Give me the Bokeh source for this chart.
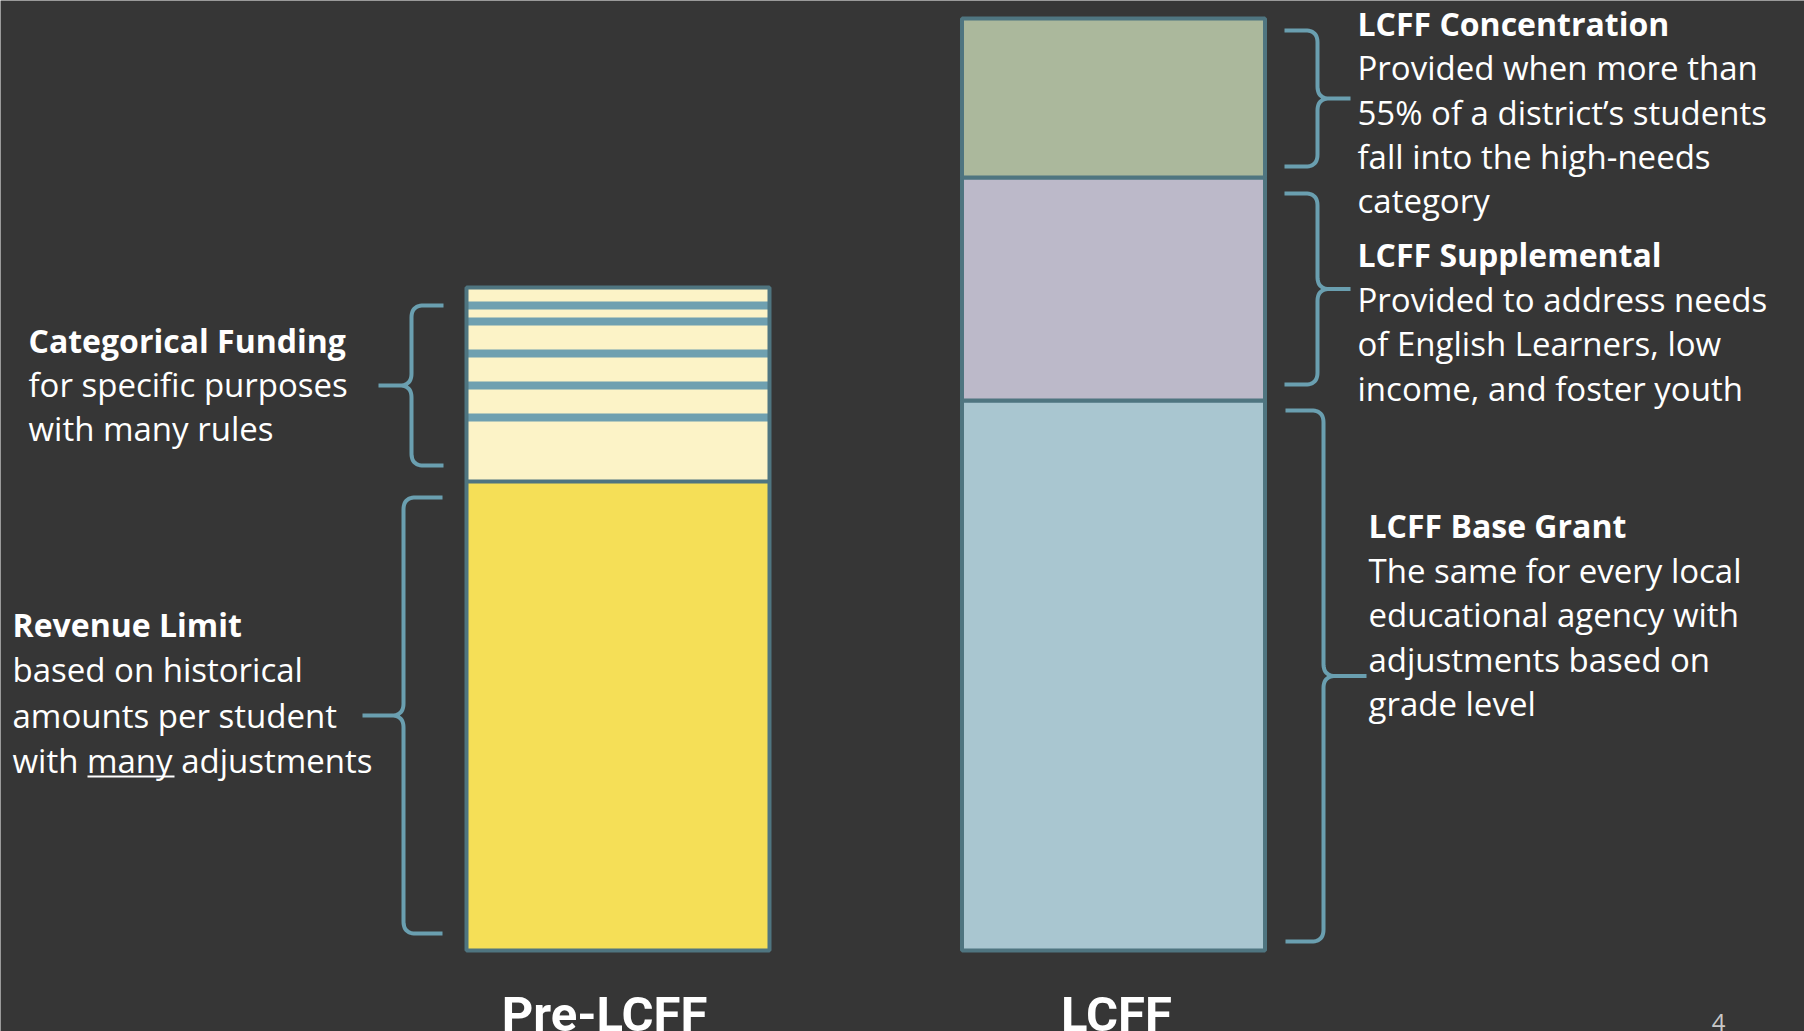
import numpy as np
from bokeh.plotting import figure
from bokeh.models import Range1d
from bokeh.core.properties import value
from bokeh.embed import file_html
from bokeh.resources import INLINE

# ---------------- data ----------------
bar_labels = ["Pre-LCFF", "LCFF"]
pre_revenue_limit = 469
pre_categorical = [64, 32, 32, 32, 16, 18]          # stacked pieces, bottom to top
lcff_names = ["LCFF Base Grant", "LCFF Supplemental", "LCFF Concentration"]
lcff_values = [550, 223, 159]                       # bottom to top

cat_title = "Categorical Funding"
cat_lines = ["for specific purposes", "with many rules"]
rev_title = "Revenue Limit"
rev_lines = ["based on historical", "amounts per student", "with many adjustments"]
conc_lines = ["Provided when more than", "55% of a district\u2019s students",
              "fall into the high-needs", "category"]
supp_lines = ["Provided to address needs", "of English Learners, low",
              "income, and foster youth"]
base_lines = ["The same for every local", "educational agency with",
              "adjustments based on", "grade level"]
page_number = "4"

# ---------------- style ----------------
BG = "#363636"
YELLOW = "#f5df57"
LIGHT_YELLOW = "#fcf3c7"
LCFF_COLORS = ["#a9c6d0", "#bcb9c9", "#abb89c"]
OUTLINE = "#4f7580"
STRIPE = "#6fa0b0"
BRACE = "#6a9fb0"
FONT = value("Open Sans")
W, H = 1804, 1031
BASE_PX = 950            # screen row of the bars' bottom
TEXT_SHIFT = 12          # renderer puts the baseline a little low

p = figure(width=W, height=H, output_backend="svg", toolbar_location=None,
           x_range=Range1d(0, W), y_range=Range1d(BASE_PX - H, BASE_PX),
           min_border=0, background_fill_color=BG, border_fill_color=BG,
           outline_line_color=None)
p.axis.visible = False
p.grid.visible = False


def v(px):
    """screen row (from top) -> data value"""
    return BASE_PX - px


pre_x, lcff_x, bar_w = 617.5, 1113, 303

# ---- Pre-LCFF bar ----
p.vbar(x=pre_x, width=bar_w, bottom=0, top=pre_revenue_limit,
       fill_color=YELLOW, line_color=None)
cat_bounds = pre_revenue_limit + np.concatenate([[0], np.cumsum(pre_categorical)])
p.vbar(x=[pre_x] * len(pre_categorical), width=bar_w,
       bottom=cat_bounds[:-1], top=cat_bounds[1:],
       fill_color=LIGHT_YELLOW, line_color=None)
inner = cat_bounds[1:-1]
p.segment(x0=[pre_x - bar_w / 2] * len(inner), x1=[pre_x + bar_w / 2] * len(inner),
          y0=inner, y1=inner, line_color=STRIPE, line_width=8)
p.segment(x0=[pre_x - bar_w / 2], x1=[pre_x + bar_w / 2],
          y0=[pre_revenue_limit], y1=[pre_revenue_limit],
          line_color=OUTLINE, line_width=4)
p.vbar(x=pre_x, width=bar_w, bottom=0, top=cat_bounds[-1],
       fill_alpha=0, line_color=OUTLINE, line_width=4)

# ---- LCFF bar ----
lb = np.concatenate([[0], np.cumsum(lcff_values)])
p.vbar(x=[lcff_x] * 3, width=bar_w, bottom=lb[:-1], top=lb[1:],
       fill_color=LCFF_COLORS, line_color=OUTLINE, line_width=4)


# ---- braces ----
def quad(p0, c, p1, n=14):
    t = np.linspace(0, 1, n)[:, None]
    pts = (1 - t) ** 2 * np.array(p0) + 2 * (1 - t) * t * np.array(c) + t ** 2 * np.array(p1)
    return pts


def brace(x_end, x_mid, x_tip, y_lo, y_hi, r=12):
    s = 1 if x_end > x_mid else -1
    y_m = (y_lo + y_hi) / 2
    pts = [np.array([[x_end, y_hi]])]
    pts.append(quad((x_mid + s * r, y_hi), (x_mid, y_hi), (x_mid, y_hi - r)))
    pts.append(quad((x_mid, y_m + r), (x_mid, y_m), (x_mid - s * r, y_m)))
    pts.append(np.array([[x_tip, y_m]]))
    pts.append(quad((x_mid - s * r, y_m), (x_mid, y_m), (x_mid, y_m - r)))
    pts.append(quad((x_mid, y_lo + r), (x_mid, y_lo), (x_mid + s * r, y_lo)))
    pts.append(np.array([[x_end, y_lo]]))
    a = np.vstack(pts)
    return a[:, 0], a[:, 1]


braces = [
    (443, 411, 378, cat_bounds[0] + 16, cat_bounds[-1] - 18),
    (442, 403, 362, 0 + 17, pre_revenue_limit - 16),
    (1284, 1317, 1350, lb[2] + 11, lb[3] - 12),
    (1284, 1317, 1350, lb[1] + 16, lb[2] - 16),
    (1285, 1323, 1366, lb[0] + 9, lb[1] - 10),
]
for b in braces:
    xs, ys = brace(*b)
    p.line(xs, ys, line_color=BRACE, line_width=4)


# ---- texts ----
def block(x, y0_px, title, lines, step):
    y0_px = y0_px - TEXT_SHIFT
    p.text(x=[x], y=[v(y0_px)], text=[title], text_font=FONT, text_font_style="bold",
           text_font_size="32px", text_color="white", text_baseline="alphabetic")
    ys = [v(y0_px + step * (i + 1)) for i in range(len(lines))]
    p.text(x=[x] * len(lines), y=ys, text=lines, text_font=FONT,
           text_font_size="33px", text_color="white", text_baseline="alphabetic")


block(28, 352, cat_title, cat_lines, 44)
block(12, 636, rev_title, rev_lines, 45.3)
block(1357, 35, lcff_names[2], conc_lines, 44.3)
block(1357, 266, lcff_names[1], supp_lines, 44.7)
block(1368, 537, lcff_names[0], base_lines, 44.6)

# underline "many"
p.segment(x0=[87], x1=[174], y0=[v(776)], y1=[v(776)], line_color="white", line_width=2)

# bar labels
p.text(x=[604, 1116], y=[v(1014)] * 2, text=bar_labels,
       text_font=value("Roboto"), text_font_style="bold",
       text_font_size="49px", text_color="white", text_align="center",
       text_baseline="alphabetic")
p.text(x=[1718], y=[v(1022)], text=[page_number], text_font=FONT,
       text_font_size="24px", text_color="#c8c8c8", text_align="center",
       text_baseline="alphabetic")

open("out.html", "w").write(file_html(p, INLINE))
